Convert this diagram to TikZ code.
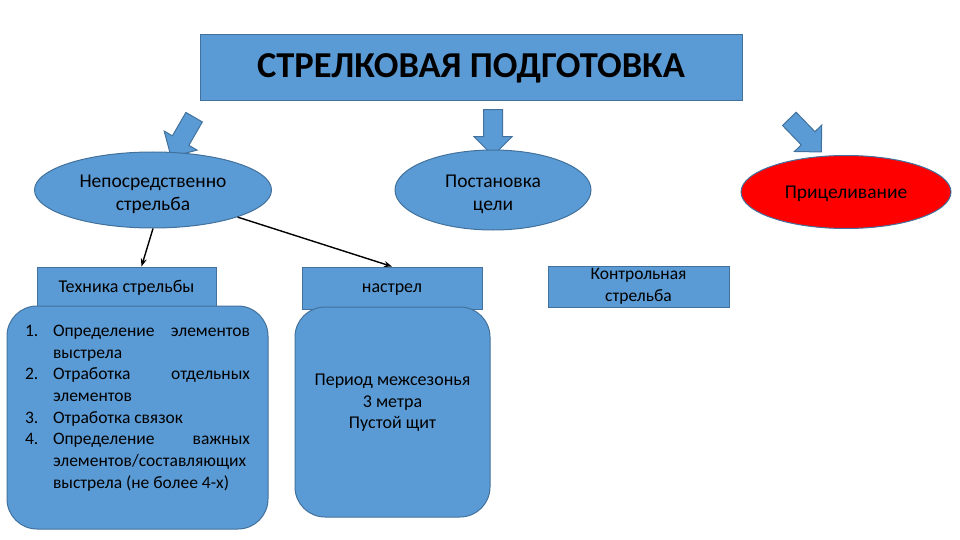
\documentclass[tikz,border=0pt]{standalone}
\usepackage{fontspec}
\setmainfont{Carlito}
\usepackage{enumitem}
\usetikzlibrary{shapes.geometric,shapes.arrows,arrows.meta}
\definecolor{officeblue}{HTML}{5B9BD5}
\definecolor{officeline}{HTML}{41719C}
\begin{document}
\begin{tikzpicture}[x=1pt,y=-1pt,
    box/.style={draw=officeline,fill=officeblue,line width=1pt,inner sep=0pt},
    oval/.style={box,ellipse,align=center,font=\fontsize{19.5}{23}\selectfont},
    link/.style={-{Stealth[length=8pt,width=6pt]},line width=1.4pt}]
  \tikzstyle{blockarrow}=[box,single arrow,inner xsep=0pt,inner ysep=9pt,minimum height=46pt,minimum width=37pt,single arrow head extend=9.5pt]
  \tikzstyle{flat}=[box,font=\fontsize{17.5}{22}\selectfont,align=center]
  \tikzstyle{plain}=[box,font=\fontsize{18}{22}\selectfont,text height=13pt,text depth=4pt]
  \tikzstyle{tall}=[box,rounded corners=30pt]
  \useasboundingbox (0,0) rectangle (960,540);

  \node[box,minimum width=542pt,minimum height=66pt,font=\fontsize{36.5}{40}\selectfont\bfseries] (title) at (471,68) {СТРЕЛКОВАЯ ПОДГОТОВКА};

  \node[blockarrow,rotate=-120] (arrowA) at (185,133) {};
  \node[blockarrow,rotate=-90] (arrowB) at (493,128) {};
  \node[blockarrow,rotate=-46] (arrowC) at (802,132) {};

  \node[oval,minimum width=237pt,minimum height=76pt,text height=45pt] (nep) at (153,190) {Непосредственно\\стрельба};
  \node[oval,minimum width=196pt,minimum height=80pt,text height=45pt] (post) at (493,190) {Постановка\\цели};
  \node[oval,fill=red,minimum width=210pt,minimum height=73pt,text height=16pt,text depth=4pt] (pric) at (846,192) {Прицеливание};

  \node[plain,minimum width=179pt,minimum height=42pt] (tech) at (126.5,288) {Техника стрельбы};
  \node[plain,minimum width=180pt,minimum height=42pt] (nastrel) at (392,288) {настрел};
  \node[flat,minimum width=181pt,minimum height=41pt] (kontr) at (638.5,286.5) {Контрольная\\стрельба};

  \node[tall,minimum width=261pt,minimum height=223pt] (steps) at (137.5,417.5) {%
    \begin{minipage}{225pt}
      \fontsize{17.5}{21.7}\selectfont
      \hyphenpenalty=10000 \exhyphenpenalty=10000 \tolerance=9999
      \begin{enumerate}[nosep,leftmargin=28pt,labelsep=12pt,labelwidth=16pt,align=left]
        \item Определение элементов выстрела
        \item Отработка отдельных элементов
        \item Отработка связок
        \item Определение важных элементов/составляющих выстрела (не более 4-х)
      \end{enumerate}
      \vspace{19pt}
    \end{minipage}};
  \node[tall,minimum width=195pt,minimum height=210pt] (season) at (392.5,412) {%
    \begin{minipage}{190pt}
      \centering\fontsize{18}{21.5}\selectfont
      Период межсезонья\\3 метра\\Пустой щит\par
      \vspace{18pt}
    \end{minipage}};

  \draw[link] (nep.south) -- ([xshift=15pt]tech.north);
  \draw[link] (nep) -- (nastrel.north);
\end{tikzpicture}
\end{document}
